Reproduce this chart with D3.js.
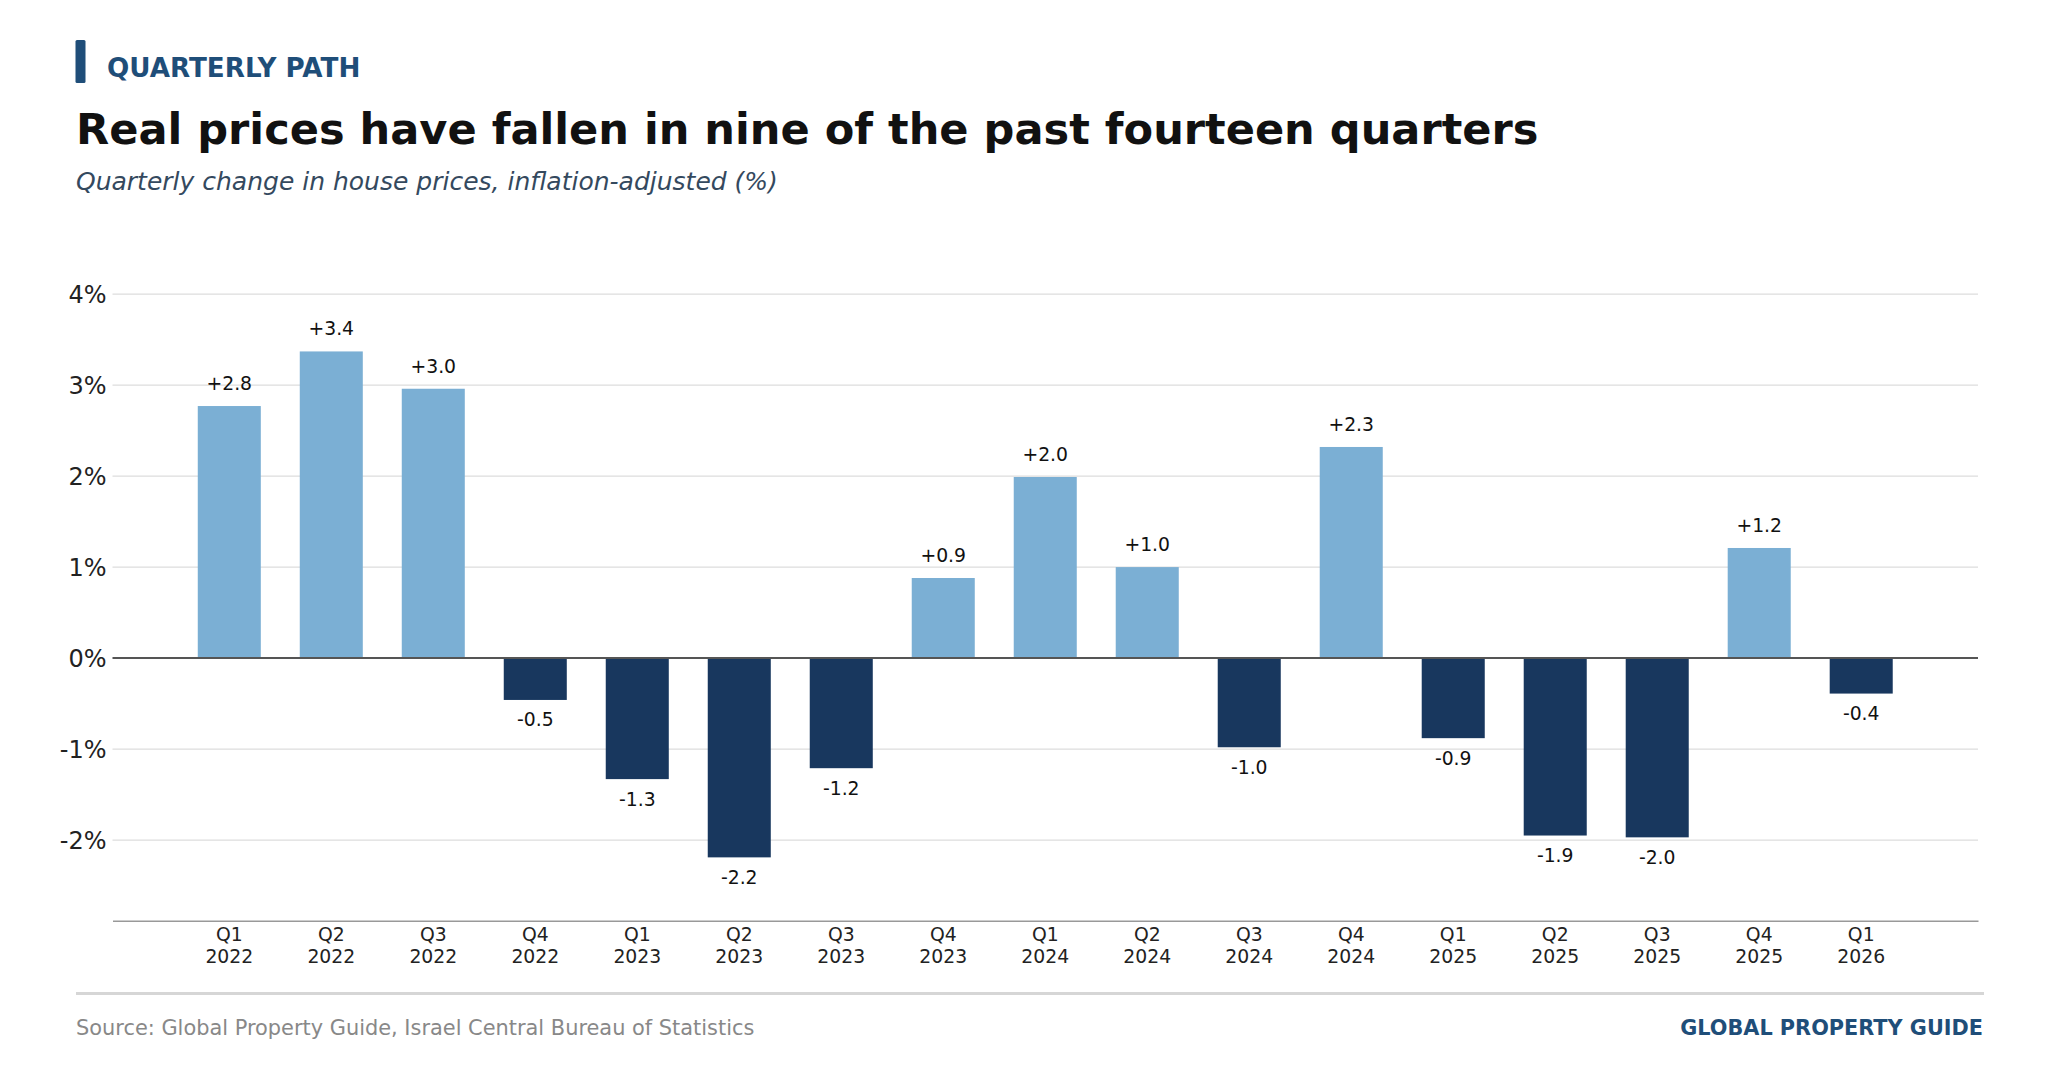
<!DOCTYPE html>
<html>
<head>
<meta charset="utf-8">
<script src="https://cdn.jsdelivr.net/npm/d3@7"></script>
<style>
	body { margin: 0; background: #fff; }
	svg { display: block; font-family: "DejaVu Sans", sans-serif; }
</style>
</head>
<body>
<div id="chart"></div>
<script>
var quarters = ['Q1', 'Q2', 'Q3', 'Q4', 'Q1', 'Q2', 'Q3', 'Q4', 'Q1', 'Q2', 'Q3', 'Q4', 'Q1', 'Q2', 'Q3', 'Q4', 'Q1'];
var years = ['2022', '2022', '2022', '2022', '2023', '2023', '2023', '2023', '2024', '2024', '2024', '2024', '2025', '2025', '2025', '2025', '2026'];
var changes = [2.77, 3.37, 2.96, -0.46, -1.33, -2.19, -1.21, 0.88, 1.99, 1.00, -0.98, 2.32, -0.88, -1.95, -1.97, 1.21, -0.39];
var yTicks = [-2, -1, 0, 1, 2, 3, 4];

var width = 2060, height = 1090;
var plot = {left: 112.5, right: 1978, top: 279, bottom: 920.7};

var svg = d3.select('#chart').append('svg')
	.attr('width', width)
	.attr('height', height);

// header
svg.append('rect')
	.attr('x', 75.5).attr('y', 40)
	.attr('width', 10).attr('height', 43)
	.attr('rx', 1.5)
	.attr('fill', '#1f4e79');

svg.append('text')
	.attr('x', 107).attr('y', 77)
	.attr('font-size', 26.2).attr('font-weight', 'bold')
	.attr('fill', '#1f4e79')
	.text('QUARTERLY PATH');

svg.append('text')
	.attr('x', 76).attr('y', 144)
	.attr('font-size', 43.1).attr('font-weight', 'bold')
	.attr('fill', '#111')
	.text('Real prices have fallen in nine of the past fourteen quarters');

svg.append('text')
	.attr('x', 76).attr('y', 190)
	.attr('font-size', 25).attr('font-style', 'italic')
	.attr('fill', '#34495e')
	.text('Quarterly change in house prices, inflation-adjusted (%)');

// scales
var keys = changes.map(function (d, i) { return i; });

var x = d3.scaleBand()
	.domain(keys)
	.range([plot.left, plot.right])
	.paddingInner(0.382)
	.paddingOuter(0.836);

var y = d3.scaleLinear()
	.domain([-2.886, 4.166])
	.range([plot.bottom, plot.top]);

// gridlines
svg.append('g').selectAll('line')
	.data(yTicks.filter(function (d) { return d !== 0; }))
	.enter().append('line')
	.attr('x1', plot.left).attr('x2', plot.right)
	.attr('y1', function (d) { return y(d); })
	.attr('y2', function (d) { return y(d); })
	.attr('stroke', '#dddddd')
	.attr('stroke-width', 1.2);

// y axis
var yAxis = svg.append('g')
	.attr('transform', 'translate(' + plot.left + ',0)')
	.call(d3.axisLeft(y)
		.tickValues(yTicks)
		.tickSize(0)
		.tickPadding(6)
		.tickFormat(function (d) { return d + '%'; }));
yAxis.select('.domain').remove();
yAxis.selectAll('text')
	.attr('font-family', '"DejaVu Sans", sans-serif')
	.attr('font-size', 24)
	.attr('fill', '#222')
	.attr('dy', '0.36em');

// bars
svg.append('g').selectAll('rect')
	.data(changes)
	.enter().append('rect')
	.attr('x', function (d, i) { return x(i); })
	.attr('width', x.bandwidth())
	.attr('y', function (d) { return y(Math.max(0, d)); })
	.attr('height', function (d) { return Math.abs(y(d) - y(0)); })
	.attr('fill', function (d) { return d >= 0 ? '#7bafd4' : '#18375e'; });

// value labels
svg.append('g').selectAll('text')
	.data(changes)
	.enter().append('text')
	.attr('x', function (d, i) { return x(i) + x.bandwidth() / 2; })
	.attr('y', function (d) { return d >= 0 ? y(d) - 16 : y(d) + 26.5; })
	.attr('text-anchor', 'middle')
	.attr('font-size', 18.8)
	.attr('fill', '#111')
	.text(function (d) { return (d >= 0 ? '+' : '') + d.toFixed(1); });

// zero line
svg.append('line')
	.attr('x1', plot.left).attr('x2', plot.right)
	.attr('y1', y(0)).attr('y2', y(0))
	.attr('stroke', '#555')
	.attr('stroke-width', 2);

// x axis
var xAxis = svg.append('g')
	.attr('transform', 'translate(0,' + plot.bottom + ')')
	.call(d3.axisBottom(x).tickSize(0).tickFormat(function (i) { return quarters[i]; }));
xAxis.select('.domain')
	.attr('stroke', '#999')
	.attr('stroke-width', 1.5);
xAxis.selectAll('.tick text').each(function (i) {
	var t = d3.select(this);
	t.text(null)
		.attr('y', null).attr('dy', null)
		.attr('font-family', '"DejaVu Sans", sans-serif')
		.attr('font-size', 18.8)
		.attr('fill', '#222');
	t.append('tspan').attr('x', 0).attr('y', 20).text(quarters[i]);
	t.append('tspan').attr('x', 0).attr('y', 42).text(years[i]);
});

// footer
svg.append('line')
	.attr('x1', 76).attr('x2', 1984)
	.attr('y1', 993.5).attr('y2', 993.5)
	.attr('stroke', '#d6d6d6')
	.attr('stroke-width', 3);

svg.append('text')
	.attr('x', 76).attr('y', 1035)
	.attr('font-size', 20.9)
	.attr('fill', '#888')
	.text('Source: Global Property Guide, Israel Central Bureau of Statistics');

svg.append('text')
	.attr('x', 1983).attr('y', 1035)
	.attr('text-anchor', 'end')
	.attr('font-size', 20.8).attr('font-weight', 'bold')
	.attr('fill', '#1f4e79')
	.text('GLOBAL PROPERTY GUIDE');
</script>
</body>
</html>
